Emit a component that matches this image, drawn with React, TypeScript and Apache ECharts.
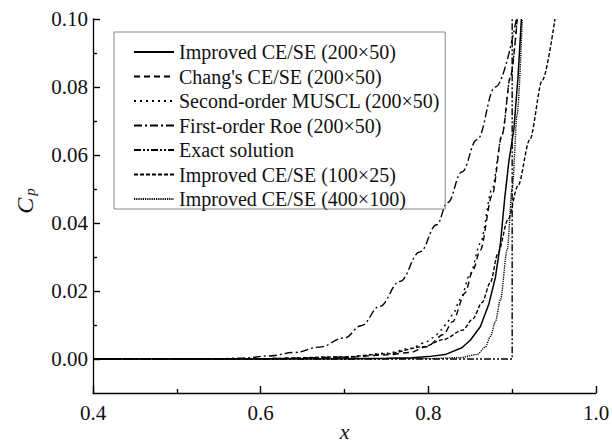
import React, { useEffect, useRef } from "react";
import * as echarts from "echarts";

const seriesNames = [
  "Improved CE/SE (200×50)",
  "Chang's CE/SE (200×50)",
  "Second-order MUSCL (200×50)",
  "First-order Roe (200×50)",
  "Exact solution",
  "Improved CE/SE (100×25)",
  "Improved CE/SE (400×100)",
];

const improved200: [number, number][] = [
  [0.4, 0], [0.6, 0], [0.7, 0.0001], [0.75, 0.0002], [0.78, 0.0004], [0.8, 0.0007],
  [0.82, 0.0013], [0.84, 0.0033], [0.85, 0.0055], [0.862, 0.0095], [0.872, 0.016],
  [0.88, 0.024], [0.886, 0.034], [0.891, 0.047], [0.896, 0.058], [0.902, 0.0675],
  [0.907, 0.083], [0.911, 0.1],
];
const chang200: [number, number][] = [
  [0.4, 0], [0.6, 0.0001], [0.7, 0.0005], [0.75, 0.0012], [0.778, 0.0019], [0.798, 0.0036],
  [0.818, 0.0072], [0.829, 0.011], [0.844, 0.0195], [0.853, 0.026], [0.862, 0.032],
  [0.876, 0.048], [0.888, 0.066], [0.898, 0.083], [0.906, 0.1],
];
const muscl200: [number, number][] = [
  [0.4, 0], [0.6, 0.0001], [0.7, 0.0006], [0.75, 0.0017], [0.78, 0.0032], [0.796, 0.0048],
  [0.806, 0.0063], [0.816, 0.0086], [0.823, 0.011], [0.829, 0.013], [0.838, 0.0175],
  [0.85, 0.025], [0.862, 0.034], [0.876, 0.05], [0.888, 0.066], [0.898, 0.083], [0.906, 0.1],
];
const roe200: [number, number][] = [
  [0.4, 0], [0.5, 0.00005], [0.55, 0.0001], [0.58, 0.0003], [0.61, 0.0009], [0.64, 0.0019],
  [0.67, 0.0035], [0.7, 0.0062], [0.72, 0.0098], [0.742, 0.0155], [0.766, 0.0228], [0.79, 0.0315],
  [0.81, 0.0395], [0.823, 0.046], [0.84, 0.055], [0.858, 0.0645], [0.88, 0.08], [0.905, 0.1],
];
const exact: [number, number][] = [[0.4, 0], [0.9, 0], [0.9, 0.1]];
const improved100: [number, number][] = [
  [0.4, 0], [0.6, 0.0001], [0.7, 0.0006], [0.75, 0.0015], [0.794, 0.0036], [0.818, 0.0057],
  [0.841, 0.0085], [0.853, 0.0118], [0.864, 0.0166], [0.874, 0.0225], [0.883, 0.031],
  [0.895, 0.041], [0.907, 0.051], [0.921, 0.0645], [0.936, 0.082], [0.951, 0.1],
];
const improved400: [number, number][] = [
  [0.4, 0], [0.8, 0.0001], [0.838, 0.0004], [0.858, 0.0013], [0.868, 0.0035], [0.874, 0.0066],
  [0.88, 0.011], [0.886, 0.0174], [0.894, 0.032], [0.9, 0.05], [0.906, 0.072], [0.912, 0.1],
];

const seriesData = [improved200, chang200, muscl200, roe200, exact, improved100, improved400];
const dashPatterns: (number[] | "solid")[] = [
  "solid", [6, 4], [2, 4], [8, 3, 2, 3], [7, 2, 2, 2, 2, 2], [4, 2], [1.2, 1],
];
const smoothing = [0, 0.3, 0.3, 0.4, 0, 0.3, 0.3];

const xMin = 0.4, xMax = 1.0, xInterval = 0.2;
const yMin = -0.01, yMax = 0.1;
const yMajorTicks = [0, 0.02, 0.04, 0.06, 0.08, 0.1];
const yMinorTicks = [0.01, 0.03, 0.05, 0.07, 0.09];

const FONT = "Liberation Serif, Times New Roman, DejaVu Serif, serif";
const INK = "#000";

export default function App() {
  const ref = useRef<HTMLDivElement>(null);
  useEffect(() => {
    if (!ref.current) return;
    const chart = echarts.init(ref.current, undefined, { renderer: "svg" });
    chart.setOption({
      animation: false,
      backgroundColor: "#fff",
      grid: { left: 93, right: 16, top: 19, bottom: 49, containLabel: false, outerBoundsMode: "none" },
      legend: {
        orient: "vertical",
        left: 114,
        top: 32,
        itemWidth: 40,
        itemHeight: 14,
        itemGap: 4.5,
        padding: [10, 5, 0, 19],
        borderColor: "#888",
        borderWidth: 1,
        borderRadius: 0,
        data: seriesNames,
        itemStyle: { opacity: 0 },
        textStyle: { fontFamily: FONT, fontSize: 20, color: "#111", lineHeight: 20 },
      },
      xAxis: {
        type: "value",
        min: xMin,
        max: xMax,
        interval: xInterval,
        name: "x",
        nameLocation: "middle",
        nameGap: 27,
        nameMoveOverlap: false,
        nameTextStyle: { fontFamily: FONT, fontSize: 22, lineHeight: 22, fontStyle: "italic", color: "#111" },
        axisLine: { show: true, onZero: false, lineStyle: { color: INK, width: 1.3 } },
        axisTick: { show: true, inside: true, length: 7, lineStyle: { color: INK, width: 1.4 } },
        minorTick: { show: true, splitNumber: 2, length: 4, lineStyle: { color: INK, width: 1.4 } },
        axisLabel: {
          show: true,
          margin: 9,
          fontFamily: FONT,
          fontSize: 21,
          color: "#111",
          formatter: (v: number) => v.toFixed(1),
        },
        splitLine: { show: false },
      },
      yAxis: [
        {
          type: "value",
          min: yMin,
          max: yMax,
          name: "{a|C}{b|p}",
          nameLocation: "middle",
          nameGap: 56,
          nameMoveOverlap: false,
          nameRotate: 90,
          nameTextStyle: {
            padding: [0, 0, 0, 10],
            rich: {
              a: { fontFamily: FONT, fontSize: 24, lineHeight: 24, fontStyle: "italic", color: "#111", verticalAlign: "top" },
              b: { fontFamily: FONT, fontSize: 15, lineHeight: 15, fontStyle: "italic", color: "#111", verticalAlign: "bottom", padding: [20, 0, 0, 2] },
            },
          },
          axisLine: { show: true, onZero: false, lineStyle: { color: INK, width: 1.3 } },
          axisTick: { show: true, inside: true, length: 7, customValues: yMajorTicks, lineStyle: { color: INK, width: 1.4 } },
          axisLabel: {
            show: true,
            customValues: yMajorTicks,
            margin: 5,
            fontFamily: FONT,
            fontSize: 21,
            color: "#111",
            formatter: (v: number) => v.toFixed(2),
          },
          splitLine: { show: false },
        },
        {
          type: "value",
          min: yMin,
          max: yMax,
          position: "left",
          axisLine: { show: false, onZero: false },
          axisTick: { show: true, inside: true, length: 4, customValues: yMinorTicks, lineStyle: { color: INK, width: 1.4 } },
          axisLabel: { show: false },
          splitLine: { show: false },
        },
      ],
      series: seriesNames.map((name, i) => ({
        name,
        type: "line",
        yAxisIndex: 0,
        data: seriesData[i],
        symbol: "none",
        showSymbol: false,
        smooth: smoothing[i],
        smoothMonotone: "x",
        clip: true,
        lineStyle: { color: "#000", width: i === 0 ? 1.5 : 1.4, type: dashPatterns[i] },
        itemStyle: { color: "#000" },
      })),
    });
    return () => chart.dispose();
  }, []);
  return <div ref={ref} style={{ width: 612, height: 442, position: "absolute", left: 0, top: 0 }} />;
}
